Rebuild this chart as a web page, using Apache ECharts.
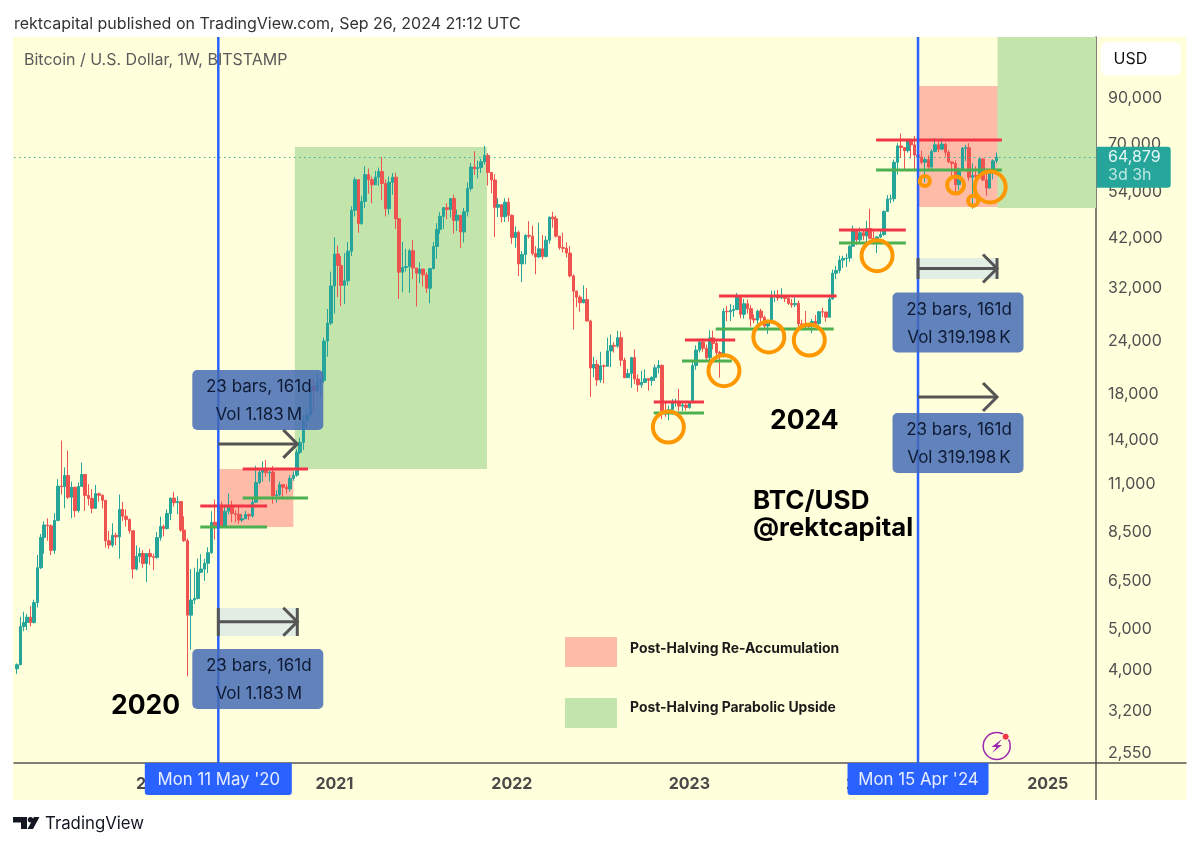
<!DOCTYPE html>
<html>
  <head>
    <meta charset="utf-8" />
    <title>BTC/USD weekly</title>
    <script src="https://cdn.jsdelivr.net/npm/echarts@6/dist/echarts.min.js"></script>
    <style>
      html, body { margin: 0; padding: 0; background: #fff; }
      #chart-container { width: 1200px; height: 847px; }
    </style>
  </head>
  <body>
    <div id="chart-container"></div>
    <script type="text/javascript">
      // weekly candles: [week start, open, close, low, high]
      const candles2019 = [
        ['2019-03-25',4010,4100,3900,4130],['2019-04-01',4100,5050,4090,5320],['2019-04-08',5050,5160,4920,5470],['2019-04-15',5160,5310,4950,5400],
        ['2019-04-22',5310,5160,5050,5640],['2019-04-29',5160,5750,5130,5840],['2019-05-06',5750,6950,5600,7450],['2019-05-13',6950,8190,6900,8350],
        ['2019-05-20',8190,8770,7500,8950],['2019-05-27',8770,8730,8050,9090],['2019-06-03',8730,7640,7450,8800],['2019-06-10',7640,8990,7500,9350],
        ['2019-06-17',8990,10830,8950,11250],['2019-06-24',10830,10800,10350,13880],['2019-07-01',10800,11480,9600,12000],['2019-07-08',11480,10200,10100,13150],
        ['2019-07-15',10200,10770,9100,11100],['2019-07-22',10770,9480,9150,10800],['2019-07-29',9480,10820,9380,11050],['2019-08-05',10820,11540,10950,12320],
        ['2019-08-12',11540,10300,9470,11500],['2019-08-19',10300,10130,9750,10950],['2019-08-26',10130,9600,9350,10650],['2019-09-02',9600,10400,9580,10900],
        ['2019-09-09',10400,10310,9950,10450],['2019-09-16',10310,10030,9600,10350],['2019-09-23',10030,8050,7750,10050],['2019-09-30',8050,7860,7700,8500],
        ['2019-10-07',7860,8290,7770,8850],['2019-10-14',8290,8220,7850,8400],['2019-10-21',8220,9540,7300,10350],['2019-10-28',9540,9200,8970,9940],
        ['2019-11-04',9200,9040,8700,9550],['2019-11-11',9040,8500,8370,9080],['2019-11-18',8500,6900,6550,8500],['2019-11-25',6900,7400,6850,7850],
        ['2019-12-02',7400,7510,7150,7750],['2019-12-09',7510,7110,6950,7650],['2019-12-16',7110,7510,6430,7520],['2019-12-23',7510,7380,7050,7700],
        ['2019-12-30',7380,7350,6850,7500]
      ];
      const candles2020 = [
        ['2020-01-06',7350,8190,7300,8450],['2020-01-13',8190,8700,8050,9180],['2020-01-20',8700,8600,8250,8780],['2020-01-27',8600,9340,8550,9550],
        ['2020-02-03',9340,10150,9000,10180],['2020-02-10',10150,9900,9700,10500],['2020-02-17',9900,9960,9300,10250],['2020-02-24',9960,8530,8450,9950],
        ['2020-03-02',8530,8050,8000,9190],['2020-03-09',8050,5370,3850,8150],['2020-03-16',5370,5830,4450,6900],['2020-03-23',5830,5880,5700,6950],
        ['2020-03-30',5880,6780,5850,7300],['2020-04-06',6780,6900,6750,7480],['2020-04-13',6900,7120,6470,7300],['2020-04-20',7120,7540,6750,7770],
        ['2020-04-27',7540,8900,7500,9450],['2020-05-04',8900,8730,8100,10070],['2020-05-11',8730,9680,8220,9950],['2020-05-18',9680,8720,8700,9950],
        ['2020-05-25',8720,9450,8640,9740],['2020-06-01',9450,9670,9300,10400],['2020-06-08',9670,9330,8900,10000],['2020-06-15',9330,9300,8900,9500],
        ['2020-06-22',9300,9010,8830,9770],['2020-06-29',9010,9070,8900,9300],['2020-07-06',9070,9280,9050,9470],['2020-07-13',9280,9210,9000,9340],
        ['2020-07-20',9210,9930,9130,10150],['2020-07-27',9930,11050,9900,12100],['2020-08-03',11050,11680,10950,11900],['2020-08-10',11680,11850,11100,12400],
        ['2020-08-17',11850,11650,11400,12480],['2020-08-24',11650,11700,11100,11750],['2020-08-31',11700,10280,9850,12090],['2020-09-07',10280,10330,9900,10600],
        ['2020-09-14',10330,10920,10250,11100],['2020-09-21',10920,10770,10150,10950],['2020-09-28',10770,10670,10400,10950],['2020-10-05',10670,11300,10520,11500],
        ['2020-10-12',11300,11500,11150,11750],['2020-10-19',11500,13030,11400,13240],['2020-10-26',13030,13750,12900,14100],['2020-11-02',13750,15480,13200,15980],
        ['2020-11-09',15480,15960,14850,16480],['2020-11-16',15960,18680,15800,18950],['2020-11-23',18680,18200,16200,19450],['2020-11-30',18200,19150,18100,19900],
        ['2020-12-07',19150,19250,17600,19400],['2020-12-14',19250,23850,19000,24300],['2020-12-21',23850,26300,21900,28400],['2020-12-28',26300,32200,26000,34800]
      ];
      const candles2021 = [
        ['2021-01-04',32200,38300,27700,41950],['2021-01-11',38300,36000,30300,40100],['2021-01-18',36000,32300,28850,37850],['2021-01-25',32300,33100,29200,38500],
        ['2021-02-01',33100,38900,32300,40900],['2021-02-08',38900,48600,37900,49700],['2021-02-15',48600,57400,47000,58300],['2021-02-22',57400,45200,43000,57500],
        ['2021-03-01',45200,51000,44900,52600],['2021-03-08',51000,59000,49200,61800],['2021-03-15',59000,57400,53200,61000],['2021-03-22',57400,55800,50500,58400],
        ['2021-03-29',55800,58200,55800,60200],['2021-04-05',58200,60000,55500,61300],['2021-04-12',60000,56200,51300,64900],['2021-04-19',56200,49000,47000,57500],
        ['2021-04-26',49000,56600,47500,58400],['2021-05-03',56600,58200,52900,59500],['2021-05-10',58200,46400,43900,59600],['2021-05-17',46400,34700,30000,46600],
        ['2021-05-24',34700,35600,31100,40900],['2021-05-31',35600,35800,34800,39400],['2021-06-07',35800,39000,31000,39400],['2021-06-14',39000,35500,33400,41300],
        ['2021-06-21',35500,34500,28800,35500],['2021-06-28',34500,35300,32700,36600],['2021-07-05',35300,34200,32100,35100],['2021-07-12',34200,31800,31000,34700],
        ['2021-07-19',31800,35400,29300,35500],['2021-07-26',35400,39900,35200,40900],['2021-08-02',39900,43800,37300,45300],['2021-08-09',43800,47000,42800,48100],
        ['2021-08-16',47000,49300,43900,49500],['2021-08-23',49300,48800,46300,50500],['2021-08-30',48800,51800,46700,51900],['2021-09-06',51800,46000,42800,52900],
        ['2021-09-13',46000,47300,43400,48800],['2021-09-20',47300,43200,39600,47300],['2021-09-27',43200,48200,40800,49200],['2021-10-04',48200,54700,47000,56500],
        ['2021-10-11',54700,61500,53900,62900],['2021-10-18',61500,60900,58900,67000],['2021-10-25',60900,61300,57800,63700],['2021-11-01',61300,63300,59500,64300],
        ['2021-11-08',63300,65500,62300,69000],['2021-11-15',65500,59700,55600,66300],['2021-11-22',59700,57300,53300,59500],['2021-11-29',57300,49400,42000,59100],
        ['2021-12-06',49400,50100,46800,51900],['2021-12-13',50100,46900,45500,50300],['2021-12-20',46900,50800,45600,51900],['2021-12-27',50800,47300,45700,52000]
      ];
      const candles2022 = [
        ['2022-01-03',47300,41900,40500,47500],['2022-01-10',41900,43100,39650,44500],['2022-01-17',43100,36300,34000,43500],['2022-01-24',36300,38200,32900,38900],
        ['2022-01-31',38200,42400,36200,42600],['2022-02-07',42400,42200,41700,45800],['2022-02-14',42200,38400,38000,44700],['2022-02-21',38400,37700,34300,40000],
        ['2022-02-28',37700,39400,37500,45400],['2022-03-07',39400,37800,37200,42500],['2022-03-14',37800,41300,37600,42300],['2022-03-21',41300,46800,40500,47000],
        ['2022-03-28',46800,46400,44200,48200],['2022-04-04',46400,42200,41900,47200],['2022-04-11',42200,39700,39200,41500],['2022-04-18',39700,39500,38600,43000],
        ['2022-04-25',39500,38500,37600,40800],['2022-05-02',38500,34000,33700,40000],['2022-05-09',34000,31300,25400,34300],['2022-05-16',31300,30300,28700,31400],
        ['2022-05-23',30300,29400,28000,30600],['2022-05-30',29400,29900,29300,32300],['2022-06-06',29900,26600,26600,31800],['2022-06-13',26600,20600,17600,26800],
        ['2022-06-20',20600,21000,19600,21900],['2022-06-27',21000,19300,18700,21500],['2022-07-04',19300,20850,19000,22500],['2022-07-11',20850,20800,18950,21000],
        ['2022-07-18',20800,22600,20800,24300],['2022-07-25',22600,23300,20700,24700],['2022-08-01',23300,23200,22400,23700],['2022-08-08',23200,24300,23000,25200],
        ['2022-08-15',24300,21500,20800,25100],['2022-08-22',21500,19550,19500,21800],['2022-08-29',19550,20000,19500,20500],['2022-09-05',20000,21800,18500,21900],
        ['2022-09-12',21800,19400,18900,22800],['2022-09-19',19400,18800,18100,19900],['2022-09-26',18800,19050,18500,20300],['2022-10-03',19050,19440,19000,20450],
        ['2022-10-10',19440,19260,18200,19500],['2022-10-17',19260,19570,18700,19700],['2022-10-24',19570,20630,19200,21000],['2022-10-31',20630,20900,20000,21500],
        ['2022-11-07',20900,16330,15600,21000],['2022-11-14',16330,16280,15800,17200],['2022-11-21',16280,16430,15500,16800],['2022-11-28',16430,17100,16000,17400],
        ['2022-12-05',17100,17100,16700,17450],['2022-12-12',17100,16740,16300,18400],['2022-12-19',16740,16840,16300,17000],['2022-12-26',16840,16620,16350,16950]
      ];
      const candles2023 = [
        ['2023-01-02',16620,17130,16500,17200],['2023-01-09',17130,20880,17100,21300],['2023-01-16',20880,22710,20400,23300],['2023-01-23',22710,23740,22400,23950],
        ['2023-01-30',23740,22930,22500,24250],['2023-02-06',22930,21780,21400,23400],['2023-02-13',21780,24270,21400,25300],['2023-02-20',24270,23550,22800,25250],
        ['2023-02-27',23550,22420,21900,23900],['2023-03-06',22420,22140,19550,22600],['2023-03-13',22140,28040,21800,28500],['2023-03-20',28040,27980,26600,28900],
        ['2023-03-27',27980,28180,26600,29200],['2023-04-03',28180,28330,27200,29000],['2023-04-10',28330,30300,28200,31000],['2023-04-17',30300,27590,27000,30500],
        ['2023-04-24',27590,29230,26950,30000],['2023-05-01',29230,28450,27700,29900],['2023-05-08',28450,26920,25800,29000],['2023-05-15',26920,26750,26300,27600],
        ['2023-05-22',26750,28080,25900,28300],['2023-05-29',28080,27100,26500,28450],['2023-06-05',27100,25900,25400,27400],['2023-06-12',25900,26340,24800,26800],
        ['2023-06-19',26340,30480,26250,31400],['2023-06-26',30480,30620,29500,31400],['2023-07-03',30620,30170,29700,31500],['2023-07-10',30170,30240,29950,31800],
        ['2023-07-17',30240,30080,29500,30300],['2023-07-24',30080,29280,29050,30300],['2023-07-31',29280,29050,28600,30000],['2023-08-07',29050,29290,28700,30200],
        ['2023-08-14',29290,26190,25300,29700],['2023-08-21',26190,26100,25800,26800],['2023-08-28',26100,25970,25400,28100],['2023-09-04',25970,25840,25350,26100],
        ['2023-09-11',25840,26530,24900,26900],['2023-09-18',26530,26250,26000,27500],['2023-09-25',26250,27980,26000,28050],['2023-10-02',27980,27930,27200,28600],
        ['2023-10-09',27930,27160,26500,28000],['2023-10-16',27160,29990,27100,30300],['2023-10-23',29990,34500,29900,35200],['2023-10-30',34500,35040,33400,35900],
        ['2023-11-06',35040,37060,34500,37950],['2023-11-13',37060,37380,35500,37950],['2023-11-20',37380,37460,35700,38400],['2023-11-27',37460,39970,36700,40200],
        ['2023-12-04',39970,43790,39950,44700],['2023-12-11',43790,41370,40200,43500],['2023-12-18',41370,43010,40600,44300],['2023-12-25',43010,42280,41300,43600]
      ];
      const candles2024 = [
        ['2024-01-01',42280,43950,40750,45900],['2024-01-08',43950,41730,41500,49000],['2024-01-15',41730,41580,40300,43550],['2024-01-22',41580,42030,38500,42200],
        ['2024-01-29',42030,42590,41800,43800],['2024-02-05',42590,48300,42300,48550],['2024-02-12',48300,51650,48200,52800],['2024-02-19',51650,51730,50500,52950],
        ['2024-02-26',51730,63110,50900,64000],['2024-03-04',63110,68960,59000,70000],['2024-03-11',68960,68390,64600,73800],['2024-03-18',68390,67210,60800,68500],
        ['2024-03-25',67210,71330,66500,71700],['2024-04-01',71330,69360,64500,71400],['2024-04-08',69360,65660,60700,72800],['2024-04-15',65660,64940,59600,66900],
        ['2024-04-22',64940,63100,62400,67200],['2024-04-29',63100,64030,56500,64800],['2024-05-06',64030,61480,60200,65500],['2024-05-13',61480,66940,60700,67700],
        ['2024-05-20',66940,69400,66600,71900],['2024-05-27',69400,67760,66600,70600],['2024-06-03',67760,69650,67600,71900],['2024-06-10',69650,66640,65100,70200],
        ['2024-06-17',66640,63210,62900,67300],['2024-06-24',63210,62680,58500,63400],['2024-07-01',62680,55860,53500,63800],['2024-07-08',55860,60790,54300,61300],
        ['2024-07-15',60790,68160,60600,68400],['2024-07-22',68160,68250,63500,69400],['2024-07-29',68250,58160,57100,70000],['2024-08-05',58160,58710,49000,62700],
        ['2024-08-12',58710,58450,56100,61800],['2024-08-19',58450,64240,57800,65000],['2024-08-26',64240,57300,57100,64500],['2024-09-02',57300,54840,52600,59800],
        ['2024-09-09',54840,59990,54600,60600],['2024-09-16',59990,63580,57500,64100],['2024-09-23',63580,64879,62700,66500]
      ];

      const priceTicks = [90000, 70000, 54000, 42000, 32000, 24000, 18000, 14000, 11000, 8500, 6500, 5000, 4000, 3200, 2550];
      // first weekly bar of each year
      const yearTicks = ['2020-01-06', '2021-01-04', '2022-01-03', '2023-01-02', '2024-01-01', '2025-01-06'];
      const lastPrice = 64879;
      const countdown = '3d 3h';

      // halving weeks
      const halvingDates = ['2020-05-11', '2024-04-15'];
      const halvingLabels = ["Mon 11 May '20", "Mon 15 Apr '24"];

      // zones: [start, end, top price, bottom price]
      const reAccumulationZones = [['2020-05-13', '2020-10-12', 11890, 8674], ['2024-04-17', '2024-09-28', 95540, 49470]];
      const parabolicZones = [['2020-10-15', '2021-11-13', 68570, 11890], ['2024-09-25', '2025-04-15', 124750, 49200]];
      const rangeBands = [['2020-05-11', '2020-10-20', 5581, 4794], ['2024-04-15', '2024-09-24', 37480, 33440]];

      // levels: [start, end, price]
      const resistanceLevels = [
        ['2020-04-04', '2020-08-19', 9723], ['2020-06-30', '2020-11-11', 11890], ['2022-10-21', '2023-02-01', 17120],
        ['2022-12-24', '2023-04-06', 23990], ['2023-03-04', '2023-10-31', 30480], ['2023-11-05', '2024-03-21', 43650],
        ['2024-01-20', '2024-10-04', 71220]
      ];
      const supportLevels = [
        ['2020-04-04', '2020-08-19', 8674], ['2020-06-30', '2020-11-11', 10155], ['2022-10-21', '2023-02-01', 16130],
        ['2022-12-18', '2023-03-30', 21400], ['2023-02-25', '2023-10-25', 25470], ['2023-11-05', '2024-03-21', 40660],
        ['2024-01-20', '2024-10-04', 60490]
      ];

      // retest circles: [date, price]
      const ringsLarge = [['2022-11-20', 14940], ['2023-03-14', 20300], ['2023-06-14', 24390], ['2023-09-05', 23990], ['2024-01-22', 37950], ['2024-09-10', 55160]];
      const ringsMedium = [['2024-07-01', 55760]];
      const ringsSmall = [['2024-04-29', 56990], ['2024-08-06', 51200]];

      // date range arrows: [start, end, price, bar top price, bar bottom price]
      const barredArrows = [['2020-05-11', '2020-10-20', 5180, 5581, 4794], ['2024-04-15', '2024-09-24', 35400, 37480, 33440]];
      const plainArrows = [['2020-05-11', '2020-10-20', 13630], ['2024-04-15', '2024-09-24', 17590]];

      // measure callouts: [date, price]
      const calloutAnchors2020 = [['2020-07-31', 17310], ['2020-07-31', 3794]];
      const calloutAnchors2024 = [['2024-07-06', 26390], ['2024-07-06', 13700]];
      const calloutLines2020 = ['23 bars, 161d', 'Vol 1.183\u2009M'];
      const calloutLines2024 = ['23 bars, 161d', 'Vol 319.198\u2009K'];

      const headerText = 'rektcapital published on TradingView.com, Sep 26, 2024 21:12 UTC';
      const symbolText = 'Bitcoin / U.S. Dollar, 1W, BITSTAMP';
      const legendNames = ['Post-Halving Re-Accumulation', 'Post-Halving Parabolic Upside'];

      const FONT = 'Inter, "Noto Sans", sans-serif';
      const UP = '#26A69A';
      const DOWN = '#EF5350';
      const PINK = '#FDBBA8';
      const GREEN = '#C3E5AC';
      const AXIS = '#555555';
      const yMin = 2402;
      const yMax = 124750;
      const xMin = '2019-03-19';
      const xMax = '2025-04-15';
      const tagWidths = [147, 141];

      const ts = (d) => +new Date(d + 'T00:00:00Z');
      const candles = [].concat(candles2019, candles2020, candles2021, candles2022, candles2023, candles2024)
        .map((r) => [ts(r[0]), r[1], r[2], r[3], r[4]]);

      // overlay series all share this shape, only the drawing differs
      function overlay(rows, z, draw) {
        return {
          type: 'custom',
          coordinateSystem: 'cartesian2d',
          z: z,
          silent: true,
          animation: false,
          clip: false,
          data: rows,
          encode: { x: 0, y: 1 },
          renderItem: draw
        };
      }

      function rectSeries(rows, color, z) {
        const data = rows.map((r) => [ts(r[0]), r[2], ts(r[1]), r[3]]);
        return overlay(data, z, function (params, api) {
          const a = api.coord([api.value(0), api.value(1)]);
          const b = api.coord([api.value(2), api.value(3)]);
          return { type: 'rect', shape: { x: a[0], y: a[1], width: b[0] - a[0], height: b[1] - a[1] }, style: { fill: color } };
        });
      }

      function levelSeries(rows, color, width, z) {
        const data = rows.map((r) => [ts(r[0]), r[2], ts(r[1])]);
        return overlay(data, z, function (params, api) {
          const a = api.coord([api.value(0), api.value(1)]);
          const b = api.coord([api.value(2), api.value(1)]);
          return { type: 'line', shape: { x1: a[0], y1: a[1], x2: b[0], y2: b[1] }, style: { stroke: color, lineWidth: width } };
        });
      }

      function ringSeries(rows, radius) {
        const data = rows.map((r) => [ts(r[0]), r[1]]);
        return overlay(data, 6, function (params, api) {
          const c = api.coord([api.value(0), api.value(1)]);
          return { type: 'circle', shape: { cx: c[0], cy: c[1], r: radius }, style: { fill: 'none', stroke: '#FF9800', lineWidth: 4 } };
        });
      }

      function arrowSeries(rows) {
        const data = rows.map((r) => [ts(r[0]), r[2], ts(r[1]), r[3] || r[2], r[4] || r[2]]);
        return overlay(data, 7, function (params, api) {
          const a = api.coord([api.value(0), api.value(1)]);
          const b = api.coord([api.value(2), api.value(1)]);
          const top = api.coord([api.value(0), api.value(3)])[1];
          const bottom = api.coord([api.value(0), api.value(4)])[1];
          const stroke = { stroke: '#555555', lineWidth: 3, fill: 'none' };
          const children = [
            { type: 'line', shape: { x1: a[0], y1: a[1], x2: b[0], y2: b[1] }, style: stroke },
            { type: 'polyline', shape: { points: [[b[0] - 14, a[1] - 14], [b[0], a[1]], [b[0] - 14, a[1] + 14]] }, style: stroke }
          ];
          if (bottom > top) {
            children.push({ type: 'line', shape: { x1: a[0], y1: top, x2: a[0], y2: bottom }, style: stroke });
            children.push({ type: 'line', shape: { x1: b[0], y1: top, x2: b[0], y2: bottom }, style: stroke });
          }
          return { type: 'group', children: children };
        });
      }

      function calloutSeries(rows, lines) {
        const data = rows.map((r) => [ts(r[0]), r[1]]);
        return overlay(data, 8, function (params, api) {
          const c = api.coord([api.value(0), api.value(1)]);
          const text = (t, y) => ({
            type: 'text',
            style: { x: c[0] + 1, y: y, text: t, font: '17px ' + FONT, fill: '#0E1A33', align: 'center', verticalAlign: 'middle' }
          });
          return {
            type: 'group',
            children: [
              { type: 'rect', shape: { x: c[0] - 65.5, y: c[1] - 30, width: 131, height: 60, r: 5 }, style: { fill: 'rgba(69,108,180,0.85)' } },
              text(lines[0], c[1] - 13),
              text(lines[1], c[1] + 15)
            ]
          };
        });
      }

      const halvingLineSeries = overlay(halvingDates.map((d) => [ts(d), yMax]), 5, function (params, api) {
        const a = api.coord([api.value(0), yMax]);
        const b = api.coord([api.value(0), yMin]);
        return { type: 'line', shape: { x1: a[0], y1: a[1], x2: b[0], y2: b[1] }, style: { stroke: '#2962FF', lineWidth: 2.5 } };
      });

      const yearLabelSeries = overlay(yearTicks.map((d) => [ts(d), yMin]), 10, function (params, api) {
        const c = api.coord([api.value(0), yMin]);
        return { type: 'text', style: { x: c[0], y: c[1] + 21, text: yearTicks[params.dataIndex].slice(0, 4), font: 'bold 16px ' + FONT, fill: '#4A4A4A', align: 'center', verticalAlign: 'middle' } };
      });

      const priceLabelSeries = overlay(priceTicks.map((p) => [ts(xMax), p]), 10, function (params, api) {
        const c = api.coord([api.value(0), api.value(1)]);
        return { type: 'text', style: { x: c[0] + 12, y: c[1] + 1, text: priceTicks[params.dataIndex].toLocaleString('en-US'), font: '16px ' + FONT, fill: '#505050', verticalAlign: 'middle' } };
      });

      const halvingTagSeries = overlay(halvingDates.map((d) => [ts(d), yMin]), 20, function (params, api) {
        const c = api.coord([api.value(0), yMin]);
        const w = tagWidths[params.dataIndex];
        return {
          type: 'group',
          children: [
            { type: 'rect', shape: { x: c[0] - w / 2, y: c[1], width: w, height: 32, r: [0, 0, 3, 3] }, style: { fill: '#2962FF' } },
            { type: 'text', style: { x: c[0] + 0.5, y: c[1] + 17, text: halvingLabels[params.dataIndex], font: '16.8px ' + FONT, fill: '#E8EEFF', align: 'center', verticalAlign: 'middle' } }
          ]
        };
      });

      const priceTagSeries = overlay([[ts(xMax), lastPrice]], 20, function (params, api) {
        const c = api.coord([api.value(0), api.value(1)]);
        const text = (t, y, fill) => ({ type: 'text', style: { x: c[0] + 12, y: y, text: t, font: '16px ' + FONT, fill: fill, verticalAlign: 'middle' } });
        return {
          type: 'group',
          children: [
            { type: 'rect', shape: { x: c[0] + 0.7, y: c[1] - 10.5, width: 74, height: 41, r: [0, 3, 3, 0] }, style: { fill: UP } },
            text(lastPrice.toLocaleString('en-US'), c[1] + 0.5, '#E6F7F5'),
            text(countdown, c[1] + 18.5, '#BFE8E3')
          ]
        };
      });

      const chart = echarts.init(document.getElementById('chart-container'), null, { renderer: 'canvas' });

      chart.setOption({
        animation: false,
        useUTC: true,
        backgroundColor: '#ffffff',
        textStyle: { fontFamily: FONT },
        grid: { left: 14, top: 37, width: 1082, height: 726, containLabel: false },
        xAxis: {
          type: 'time',
          min: ts(xMin),
          max: ts(xMax),
          axisLine: { show: true, lineStyle: { color: AXIS, width: 1.5 } },
          axisTick: { show: false },
          splitLine: { show: false },
          axisLabel: { show: false }
        },
        yAxis: {
          type: 'log',
          logBase: 10,
          position: 'right',
          min: yMin,
          max: yMax,
          axisLine: { show: true, lineStyle: { color: AXIS, width: 1.5 } },
          axisTick: { show: false },
          splitLine: { show: false },
          minorSplitLine: { show: false },
          axisLabel: { show: false }
        },
        graphic: [
          { type: 'rect', z: -5, shape: { x: 13, y: 37, width: 1173.5, height: 763 }, style: { fill: '#FFFFDC' } },
          { type: 'line', z: 1, shape: { x1: 1096, y1: 763, x2: 1096, y2: 800 }, style: { stroke: AXIS, lineWidth: 1.5 } },
          { type: 'line', z: 1, shape: { x1: 1096, y1: 763, x2: 1186.5, y2: 763 }, style: { stroke: AXIS, lineWidth: 1.5 } },
          { type: 'text', z: 30, style: { x: 14, y: 24, text: headerText, font: '16px ' + FONT, fill: '#333333', verticalAlign: 'middle' } },
          { type: 'text', z: 30, style: { x: 24, y: 60, text: symbolText, font: '16px ' + FONT, fill: '#5A5A5A', verticalAlign: 'middle' } },
          { type: 'rect', z: 30, shape: { x: 1101, y: 42, width: 80, height: 33.5, r: 7 }, style: { fill: '#ffffff' } },
          { type: 'text', z: 31, style: { x: 1113.5, y: 59, text: 'USD', font: '16px ' + FONT, fill: '#111111', verticalAlign: 'middle' } },
          { type: 'rect', z: 30, shape: { x: 565, y: 637, width: 52, height: 30 }, style: { fill: PINK } },
          { type: 'rect', z: 30, shape: { x: 565, y: 698, width: 52, height: 30 }, style: { fill: GREEN } },
          { type: 'text', z: 30, style: { x: 630, y: 649, text: legendNames[0], font: 'bold 13.9px ' + FONT, fill: '#1A1A1A', verticalAlign: 'middle' } },
          { type: 'text', z: 30, style: { x: 630, y: 708, text: legendNames[1], font: 'bold 13.9px ' + FONT, fill: '#1A1A1A', verticalAlign: 'middle' } },
          { type: 'text', z: 30, style: { x: 111, y: 706, text: '2020', font: 'bold 26.5px ' + FONT, fill: '#000000', verticalAlign: 'middle' } },
          { type: 'text', z: 30, style: { x: 770, y: 421, text: '2024', font: 'bold 26.5px ' + FONT, fill: '#000000', verticalAlign: 'middle' } },
          { type: 'text', z: 30, style: { x: 753, y: 501, text: 'BTC/USD', font: 'bold 26px ' + FONT, fill: '#000000', verticalAlign: 'middle' } },
          { type: 'text', z: 30, style: { x: 753, y: 528, text: '@rektcapital', font: 'bold 25.7px ' + FONT, fill: '#000000', verticalAlign: 'middle' } },
          // lightning badge
          { type: 'circle', z: 30, shape: { cx: 996.7, cy: 746, r: 13.5 }, style: { fill: 'none', stroke: '#9C27B0', lineWidth: 1.5 } },
          { type: 'polygon', z: 30, shape: { points: [[1002, 739], [991.5, 747], [996.5, 747], [992, 753], [1002, 745], [997.5, 745]] }, style: { fill: '#9C27B0' } },
          { type: 'circle', z: 31, shape: { cx: 1005.7, cy: 736.7, r: 3.5 }, style: { fill: '#F23645', stroke: '#FFFFDC', lineWidth: 1 } },
          // footer logo
          { type: 'polygon', z: 30, shape: { points: [[13, 817], [27, 817], [27, 829], [21, 829], [21, 822.5], [13, 822.5]] }, style: { fill: '#131722' } },
          { type: 'circle', z: 30, shape: { cx: 30.5, cy: 819.7, r: 2.7 }, style: { fill: '#131722' } },
          { type: 'polygon', z: 30, shape: { points: [[34, 817], [39.5, 817], [33, 829], [27.5, 829]] }, style: { fill: '#131722' } },
          { type: 'text', z: 30, style: { x: 45, y: 824, text: 'TradingView', font: '16.8px ' + FONT, fill: '#131722', verticalAlign: 'middle' } }
        ],
        series: [
          rectSeries(reAccumulationZones, PINK, 1),
          rectSeries(parabolicZones, GREEN, 1),
          rectSeries(rangeBands, '#E2EEE3', 1),
          {
            type: 'candlestick',
            z: 3,
            data: candles,
            encode: { x: 0, y: [1, 2, 3, 4] },
            barWidth: 3,
            silent: true,
            animation: false,
            itemStyle: { color: UP, color0: DOWN, borderColor: UP, borderColor0: DOWN, borderWidth: 1 },
            markLine: {
              silent: true,
              symbol: 'none',
              animation: false,
              label: { show: false },
              lineStyle: { type: [1.5, 3.5], color: '#3FAF9F', width: 1.2 },
              data: [{ yAxis: lastPrice }]
            }
          },
          levelSeries(resistanceLevels, '#F23645', 3, 4),
          levelSeries(supportLevels, '#4CAF50', 3, 4),
          halvingLineSeries,
          ringSeries(ringsLarge, 15.5),
          ringSeries(ringsMedium, 8.5),
          ringSeries(ringsSmall, 5),
          arrowSeries(barredArrows),
          arrowSeries(plainArrows),
          calloutSeries(calloutAnchors2020, calloutLines2020),
          calloutSeries(calloutAnchors2024, calloutLines2024),
          yearLabelSeries,
          priceLabelSeries,
          halvingTagSeries,
          priceTagSeries
        ]
      });
    </script>
  </body>
</html>
